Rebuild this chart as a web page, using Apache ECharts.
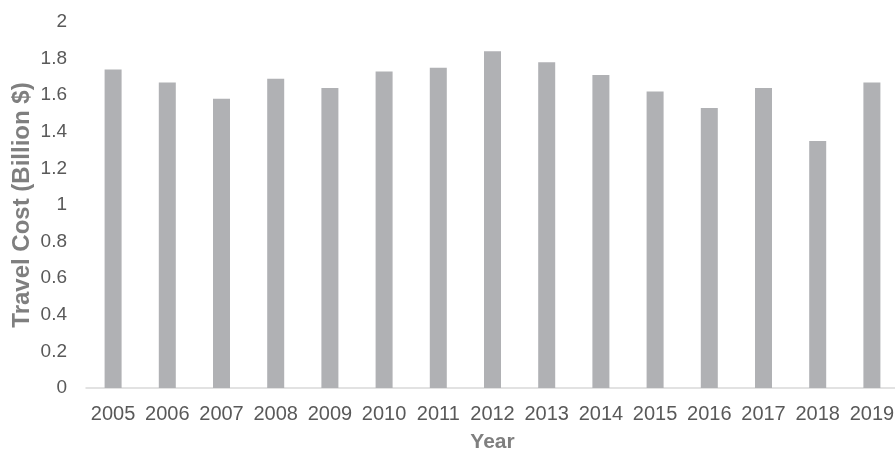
<!DOCTYPE html>
<html>
<head>
<meta charset="utf-8">
<script src="https://cdn.jsdelivr.net/npm/echarts@6/dist/echarts.min.js"></script>
<style>html,body{margin:0;padding:0;background:#fff}#c{width:895px;height:452px}</style>
</head>
<body>
<div id="c"></div>
<script>
const years = ['2005','2006','2007','2008','2009','2010','2011','2012','2013','2014','2015','2016','2017','2018','2019'];
const travelCost = [1.74, 1.67, 1.58, 1.69, 1.64, 1.73, 1.75, 1.84, 1.78, 1.71, 1.62, 1.53, 1.64, 1.35, 1.67];
const yTicks = { min: 0, max: 2, interval: 0.2 };

const chart = echarts.init(document.getElementById('c'), null, { renderer: 'canvas' });
chart.setOption({
  animation: false,
  backgroundColor: '#ffffff',
  grid: { left: 86, right: -4, top: 22, bottom: 64, containLabel: false, outerBoundsMode: 'none' },
  xAxis: {
    type: 'category',
    data: years,
    name: 'Year',
    nameLocation: 'middle',
    nameGap: 44,
    nameTextStyle: { color: '#7f7f7f', fontSize: 21, fontWeight: 'bold', fontFamily: 'Liberation Sans' },
    axisLine: { lineStyle: { color: '#d9d9d9', width: 1.5 } },
    axisTick: { show: false },
    axisLabel: { color: '#595959', fontSize: 20, fontFamily: 'Liberation Sans', margin: 16, interval: 0 }
  },
  yAxis: {
    type: 'value',
    min: yTicks.min, max: yTicks.max, interval: yTicks.interval,
    name: 'Travel Cost (Billion $)',
    nameLocation: 'middle',
    nameGap: 52,
    nameMoveOverlap: false,
    nameTextStyle: { color: '#7f7f7f', fontSize: 24, fontWeight: 'bold', fontFamily: 'Liberation Sans' },
    axisLine: { show: false },
    axisTick: { show: false },
    splitLine: { show: false },
    axisLabel: { color: '#595959', fontSize: 19, fontFamily: 'Liberation Sans', margin: 19 }
  },
  series: [{
    type: 'bar',
    data: travelCost,
    barWidth: 17,
    itemStyle: { color: '#b0b1b4' }
  }]
});
</script>
</body>
</html>
